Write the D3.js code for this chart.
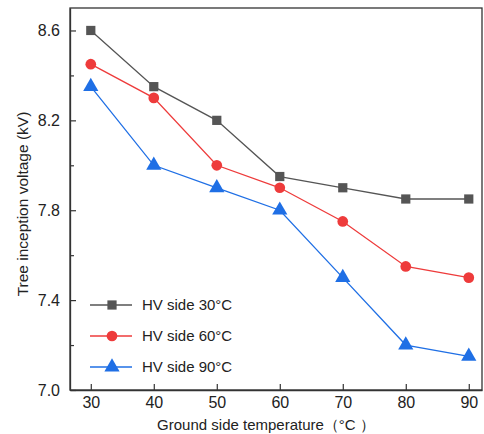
<!DOCTYPE html>
<html>
<head>
<meta charset="utf-8">
<title>Tree inception voltage</title>
<style>
  body { margin: 0; background: #fff; }
  text { font-family: "Liberation Sans", Arial, sans-serif; fill: #222; }
</style>
</head>
<body>
<script src="https://cdn.jsdelivr.net/npm/d3@7"></script>
<script>
// data
var temps = [30, 40, 50, 60, 70, 80, 90];
var hv30 = [8.6, 8.35, 8.2, 7.95, 7.9, 7.85, 7.85];
var hv60 = [8.45, 8.3, 8.0, 7.9, 7.75, 7.55, 7.5];
var hv90 = [8.35, 8.0, 7.9, 7.8, 7.5, 7.2, 7.15];
var seriesNames = ["HV side 30°C", "HV side 60°C", "HV side 90°C"];
var yTicks = [7.0, 7.4, 7.8, 8.2, 8.6];
var yMinor = [7.2, 7.6, 8.0, 8.4];

var W = 484, H = 434;
var margin = {top: 8, right: 2, bottom: 44, left: 70};
var width = W - margin.left - margin.right,
    height = H - margin.top - margin.bottom;

var svg = d3.select("body").append("svg")
  .attr("width", W).attr("height", H);

var chart = svg.append("g")
  .attr("transform", "translate(" + margin.left + "," + margin.top + ")");

var x = d3.scaleLinear().domain([26.7, 92.1]).range([0, width]);
var y = d3.scaleLinear().domain([7.0, 8.7]).range([height, 0]);
// 7.0 sits right on the bottom axis
var colors = ["#555555", "#ee3b3b", "#1f6fe5"];
var shapes = [d3.symbolSquare, d3.symbolCircle, d3.symbolTriangle];
var sizes = [85, 90, 100];

var series = [hv30, hv60, hv90].map(function(vals, i){
  return { name: seriesNames[i], color: colors[i], shape: shapes[i], size: sizes[i],
    points: temps.map(function(t, j){ return {t: t, v: vals[j]}; }) };
});

// frame
chart.append("rect")
  .attr("width", width).attr("height", height)
  .attr("fill", "none").attr("stroke", "#333").attr("stroke-width", 1.3);

// axes
var xAxis = chart.append("g")
  .attr("transform", "translate(0," + height + ")")
  .call(d3.axisBottom(x).tickValues(temps).tickSizeInner(-6).tickSizeOuter(0).tickPadding(7));
var yAxis = chart.append("g")
  .call(d3.axisLeft(y).tickValues(yTicks).tickFormat(d3.format(".1f")).tickSizeInner(-6).tickSizeOuter(0).tickPadding(10));
chart.append("g")
  .call(d3.axisLeft(y).tickValues(yMinor).tickFormat("").tickSizeInner(-4).tickSizeOuter(0))
  .select(".domain").remove();

chart.selectAll(".domain").attr("stroke", "#333").attr("stroke-width", 1.3);
chart.selectAll(".tick line").attr("stroke", "#333").attr("stroke-width", 1.2);
xAxis.selectAll("text").style("font-size", "16px").attr("fill", "#222");
yAxis.selectAll("text").style("font-size", "16px").attr("fill", "#222");

// axis titles
svg.append("text")
  .attr("x", margin.left + width / 2 - 10).attr("y", 430)
  .attr("text-anchor", "middle").style("font-size", "15px")
  .text("Ground side temperature（°C ）");
svg.append("text")
  .attr("transform", "translate(28," + (margin.top + 196) + ") rotate(-90)")
  .attr("text-anchor", "middle").style("font-size", "15.5px")
  .text("Tree inception voltage (kV)");

// lines and markers
var line = d3.line()
  .x(function(d){ return x(d.t); })
  .y(function(d){ return y(d.v); });

var groups = chart.selectAll("g.series")
  .data(series).enter().append("g").attr("class", "series");

groups.append("path")
  .attr("d", function(d){ return line(d.points); })
  .attr("fill", "none")
  .attr("stroke", function(d){ return d.color; })
  .attr("stroke-width", 1.3);

groups.each(function(s){
  d3.select(this).selectAll("path.mark")
    .data(s.points).enter().append("path")
    .attr("class", "mark")
    .attr("transform", function(d){ return "translate(" + x(d.t) + "," + y(d.v) + ")"; })
    .attr("d", d3.symbol().type(s.shape).size(s.size))
    .attr("fill", s.color);
});

// legend
var legend = chart.append("g")
  .selectAll("g")
  .data(series).enter().append("g")
  .attr("transform", function(d, i){ return "translate(20," + (297 + i * 31) + ")"; });

legend.append("line")
  .attr("x1", 0).attr("x2", 42)
  .attr("stroke", function(d){ return d.color; })
  .attr("stroke-width", 1.3);
legend.append("path")
  .attr("transform", "translate(22,0)")
  .attr("d", function(d){ return d3.symbol().type(d.shape).size(d.size)(); })
  .attr("fill", function(d){ return d.color; });
legend.append("text")
  .attr("x", 52).attr("y", 5)
  .style("font-size", "15px")
  .text(function(d){ return d.name; });
</script>
</body>
</html>
